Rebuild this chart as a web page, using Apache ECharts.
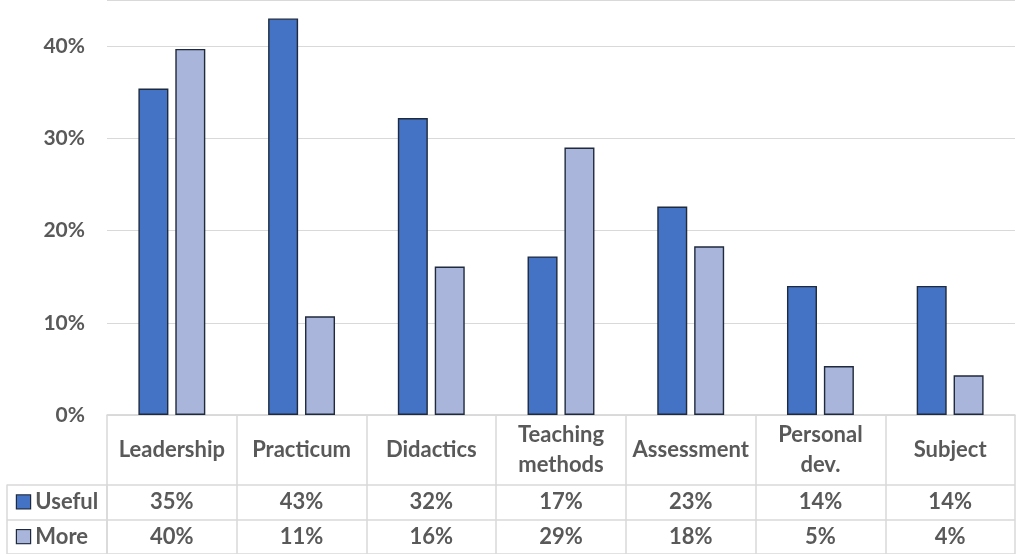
<!DOCTYPE html>
<html>
<head>
<meta charset="utf-8">
<script src="https://cdn.jsdelivr.net/npm/echarts@6/dist/echarts.min.js"></script>
<style>
html,body{margin:0;padding:0;background:#fff;}
#c{width:1016px;height:554px;}
</style>
</head>
<body>
<div id="c"></div>
<script>
const categories = ['Leadership', 'Practicum', 'Didactics', 'Teaching\nmethods', 'Assessment', 'Personal\ndev.', 'Subject'];
const seriesNames = ['Useful', 'More'];
const useful = [0.354, 0.430, 0.322, 0.172, 0.226, 0.140, 0.140];
const more = [0.397, 0.107, 0.161, 0.290, 0.183, 0.053, 0.043];
const yTicks = [0, 0.1, 0.2, 0.3, 0.4];

const colors = ['#4472C4', '#A9B5DA'];
const textColor = '#595959';
const lineColor = '#D9D9D9';
const font = 'Lato';
const fs = 21;
const tfs = 22;

const pct = v => Math.round(v * 100) + '%';

// table rows (bottom to top on category axis)
const tableRows = ['More', 'Useful', 'hdr2', 'hdr1'];

const wrap = s => s.split('\n').map(l => '{t|' + l + '}').join('\n');

const tableText = [];
categories.forEach((c, i) => {
  tableText.push({ value: [i, 3], text: wrap(c) });
  tableText.push({ value: [i, 1.5], text: wrap(pct(useful[i])) });
  tableText.push({ value: [i, 0.5], text: wrap(pct(more[i])) });
});

const chart = echarts.init(document.getElementById('c'), null, { renderer: 'canvas' });
const plotBottom = 415;
const tableH = 554 - plotBottom;
chart.setOption({
  animation: false,
  backgroundColor: '#fff',
  textStyle: { fontFamily: font },
  grid: [
    { left: 107, right: 1, top: -8, bottom: 554 - plotBottom },
    { left: 107, right: 1, top: plotBottom, bottom: 0 },
    { left: 7, width: 100, top: plotBottom + tableH / 2, bottom: 0 }
  ],
  xAxis: [
    { type: 'category', gridIndex: 0, data: categories,
      axisLine: { show: true, lineStyle: { color: lineColor, width: 1.5 } },
      axisTick: { show: false }, axisLabel: { show: false } },
    { type: 'category', gridIndex: 1, data: categories,
      axisLine: { show: false }, axisTick: { show: false }, axisLabel: { show: false },
      splitLine: { show: true, lineStyle: { color: lineColor, width: 1.5 } } },
    { type: 'category', gridIndex: 2, data: [''],
      axisLine: { show: false }, axisTick: { show: false }, axisLabel: { show: false },
      splitLine: { show: true, interval: 0, lineStyle: { color: lineColor, width: 1.5 } } },
    { type: 'value', gridIndex: 1, min: -0.5, max: categories.length - 0.5, show: false }
  ],
  yAxis: [
    { type: 'value', gridIndex: 0, min: 0, max: 0.45, interval: 0.1,
      axisLine: { show: false }, axisTick: { show: false },
      splitLine: { show: true, lineStyle: { color: lineColor, width: 1.2 } },
      axisLabel: { margin: 22, color: textColor, fontFamily: font, fontWeight: 'bold', fontSize: fs,
        formatter: v => yTicks.some(t => Math.abs(t - v) < 1e-9) ? Math.round(v * 100) + '%' : '' } },
    { type: 'category', gridIndex: 1, data: tableRows,
      axisLine: { show: false }, axisTick: { show: false }, axisLabel: { show: false },
      splitLine: { show: true, interval: (idx) => idx !== 3, lineStyle: { color: lineColor, width: 1.5 } } },
    { type: 'category', gridIndex: 2, data: ['More', 'Useful'],
      axisLine: { show: false }, axisTick: { show: false },
      splitLine: { show: true, interval: 0, lineStyle: { color: lineColor, width: 1.5 } },
      axisLabel: { inside: true, margin: 10, align: 'left', color: textColor, fontFamily: font, fontWeight: 'bold', fontSize: tfs,
        formatter: v => (v === 'Useful' ? '{u|}' : '{m|}') + ' ' + v,
        rich: {
          u: { width: 13, height: 13, backgroundColor: colors[0], borderColor: '#1F2A3C', borderWidth: 1.2 },
          m: { width: 13, height: 13, backgroundColor: colors[1], borderColor: '#1F2A3C', borderWidth: 1.2 }
        } } },
    { type: 'value', gridIndex: 1, min: 0, max: 4, show: false }
  ],
  series: [
    { name: seriesNames[0], type: 'bar', xAxisIndex: 0, yAxisIndex: 0, data: useful,
      barWidth: 30, barGap: '23%',
      itemStyle: { color: colors[0], borderColor: '#1F2A3C', borderWidth: 1.4 } },
    { name: seriesNames[1], type: 'bar', xAxisIndex: 0, yAxisIndex: 0, data: more,
      barWidth: 30, barGap: '23%',
      itemStyle: { color: colors[1], borderColor: '#1F2A3C', borderWidth: 1.4 } },
    { type: 'scatter', xAxisIndex: 3, yAxisIndex: 3, symbolSize: 1, data: tableText,
      itemStyle: { opacity: 1, color: 'rgba(0,0,0,0)' },
      label: { show: true, position: 'inside', formatter: p => p.data.text,
        color: textColor, textBorderWidth: 0, opacity: 1,
        rich: { t: { color: textColor, fontFamily: font, fontWeight: 'bold', fontSize: tfs, lineHeight: 30, align: 'center', textBorderWidth: 0 } } } }
  ]
});
</script>
</body>
</html>
